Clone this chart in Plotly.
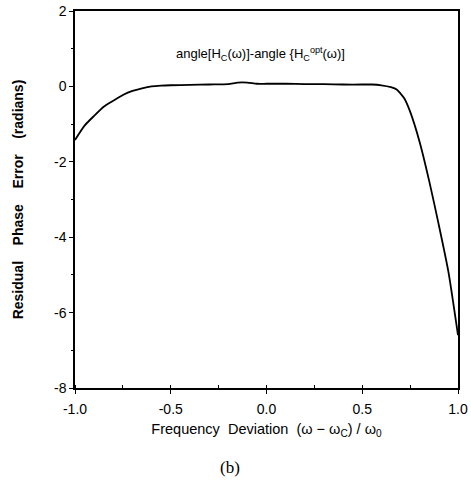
import plotly.graph_objects as go

freq_dev = [-1.0, -0.95, -0.9, -0.85, -0.8, -0.75, -0.7, -0.65, -0.6, -0.55, -0.5,
            -0.4, -0.3, -0.2, -0.15, -0.1, -0.05, 0.0, 0.1, 0.2, 0.3, 0.4, 0.5,
            0.55, 0.6, 0.65, 0.68, 0.7, 0.72, 0.75, 0.8, 0.85, 0.9, 0.95, 1.0]
phase_err = [-1.42, -1.04, -0.78, -0.54, -0.38, -0.23, -0.12, -0.05, 0.0, 0.02, 0.03,
             0.04, 0.05, 0.06, 0.1, 0.1, 0.07, 0.07, 0.07, 0.06, 0.06, 0.05, 0.05,
             0.05, 0.03, -0.02, -0.08, -0.19, -0.32, -0.67, -1.48, -2.52, -3.68, -4.92, -6.6]

x_ticks = [-1.0, -0.5, 0.0, 0.5, 1.0]
x_tick_labels = ["-1.0", "-0.5", "0.0", "0.5", "1.0"]
y_ticks = [-8, -6, -4, -2, 0, 2]
y_tick_labels = ["-8", "-6", "-4", "-2", "0", "2"]

fig = go.Figure()
fig.add_trace(go.Scatter(x=freq_dev, y=phase_err, mode="lines",
                         line=dict(color="black", width=1.8, shape="spline", smoothing=0.6),
                         showlegend=False, hoverinfo="skip"))

fig.add_annotation(x=-0.03, y=0.85, xref="x", yref="y",
                   text="angle[H<sub>C</sub>(ω)]-angle {H<sub>C</sub><sup>opt</sup>(ω)]",
                   showarrow=False, font=dict(family="Liberation Sans, Arial", size=13, color="black"))
fig.add_annotation(x=0.405, y=-0.21, xref="paper", yref="paper", yanchor="middle",
                   text="(b)", showarrow=False,
                   font=dict(family="Liberation Serif, Times New Roman", size=17, color="black"))

axis_common = dict(showgrid=False, zeroline=False, showline=True, linecolor="black",
                   linewidth=1.5, mirror=True, ticks="outside", ticklen=4, tickwidth=1.2,
                   tickcolor="black", automargin=False,
                   tickfont=dict(family="Liberation Sans, Arial", size=14, color="black"))

fig.update_xaxes(range=[-1.0, 1.0], tickvals=x_ticks, ticktext=x_tick_labels,
                 ticklabelstandoff=3,
                 minor=dict(dtick=0.25, ticks="inside", ticklen=3, tickcolor="black", tickwidth=1),
                 title=dict(text="Frequency  Deviation  (ω − ω<sub>C</sub>) / ω<sub>0</sub>",
                            font=dict(family="Liberation Sans, Arial", size=14.5, color="black"),
                            standoff=8),
                 **axis_common)
fig.update_yaxes(range=[-8, 2], tickvals=y_ticks, ticktext=y_tick_labels,
                 minor=dict(dtick=1, ticks="outside", ticklen=2, tickcolor="black", tickwidth=1),
                 title=dict(text="<b>Residual    Phase    Error    (radians)</b>",
                            font=dict(family="Liberation Sans, Arial", size=14, color="black"),
                            standoff=27),
                 **axis_common)

fig.update_layout(width=471, height=482, margin=dict(l=75, r=13, t=11, b=94),
                  paper_bgcolor="white", plot_bgcolor="white")

fig.write_html("out.html", config={"displayModeBar": False},
               post_script="document.body.style.margin='0';")
